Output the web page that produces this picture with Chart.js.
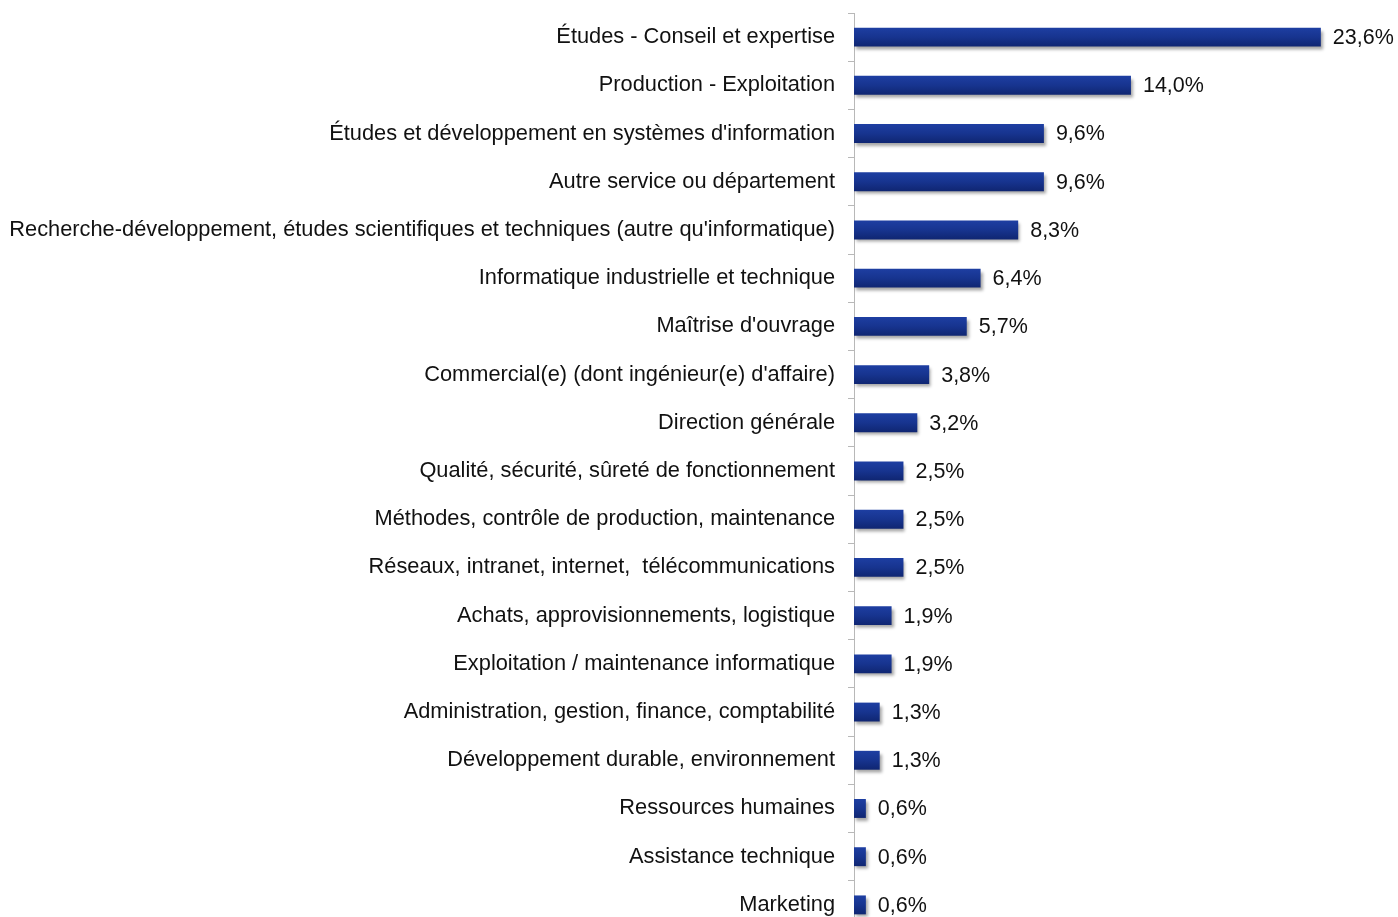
<!DOCTYPE html>
<html>
<head>
<meta charset="utf-8">
<script src="https://cdn.jsdelivr.net/npm/chart.js@4"></script>
<style>
  html, body { margin: 0; padding: 0; background: #fff; overflow: hidden; }
  #wrap { width: 1398px; height: 930px; position: relative; }
</style>
</head>
<body>
<div id="wrap"><canvas id="chart"></canvas></div>
<script>
// Services / départements, ordre du graphique
const categories = [
  "Études - Conseil et expertise",
  "Production - Exploitation",
  "Études et développement en systèmes d'information",
  "Autre service ou département",
  "Recherche-développement, études scientifiques et techniques (autre qu'informatique)",
  "Informatique industrielle et technique",
  "Maîtrise d'ouvrage",
  "Commercial(e) (dont ingénieur(e) d'affaire)",
  "Direction générale",
  "Qualité, sécurité, sûreté de fonctionnement",
  "Méthodes, contrôle de production, maintenance",
  "Réseaux, intranet, internet,  télécommunications",
  "Achats, approvisionnements, logistique",
  "Exploitation / maintenance informatique",
  "Administration, gestion, finance, comptabilité",
  "Développement durable, environnement",
  "Ressources humaines",
  "Assistance technique",
  "Marketing"
];
const values = [23.6, 14.0, 9.6, 9.6, 8.3, 6.4, 5.7, 3.8, 3.2, 2.5, 2.5, 2.5, 1.9, 1.9, 1.3, 1.3, 0.6, 0.6, 0.6];

const FONT = "'Liberation Sans', Arial, sans-serif";
const fmt = v => v.toFixed(1).replace('.', ',') + '%';

// dégradé vertical par barre
function barGradient(c) {
  const chart = c.chart;
  const y = chart.scales.y;
  if (!y || !chart.chartArea || c.dataIndex === undefined) return '#15318f';
  const cy = y.getPixelForValue(c.dataIndex);
  const h = 10;
  const g = chart.ctx.createLinearGradient(0, cy - h, 0, cy + h);
  g.addColorStop(0, '#1e3fa3');
  g.addColorStop(0.5, '#17348f');
  g.addColorStop(1, '#0f2570');
  return g;
}

// ombre portée sous les barres
const shadowPlugin = {
  id: 'barShadow',
  beforeDatasetsDraw(chart) {
    const ctx = chart.ctx;
    ctx.save();
    ctx.shadowColor = 'rgba(0,0,0,0.35)';
    ctx.shadowBlur = 3;
    ctx.shadowOffsetX = 2;
    ctx.shadowOffsetY = 3;
  },
  afterDatasetsDraw(chart) {
    chart.ctx.restore();
  }
};

// étiquettes de valeur en bout de barre
const valueLabels = {
  id: 'valueLabels',
  afterDatasetsDraw(chart) {
    const ctx = chart.ctx;
    const meta = chart.getDatasetMeta(0);
    ctx.save();
    ctx.font = '21.5px ' + FONT;
    ctx.fillStyle = '#111';
    ctx.textBaseline = 'middle';
    meta.data.forEach((bar, i) => {
      ctx.fillText(fmt(values[i]), bar.x + 12, bar.y + 1);
    });
    ctx.restore();
  }
};

new Chart(document.getElementById('chart'), {
  type: 'bar',
  data: {
    labels: categories,
    datasets: [{
      data: values,
      backgroundColor: barGradient,
      borderWidth: 0,
      barPercentage: 0.8,
      categoryPercentage: 0.49
    }]
  },
  options: {
    indexAxis: 'y',
    responsive: true,
    maintainAspectRatio: false,
    animation: false,
    layout: { padding: { top: 13, right: 0, bottom: 1, left: 0 } },
    plugins: { legend: { display: false }, tooltip: { enabled: false } },
    scales: {
      x: {
        display: false,
        min: 0,
        max: 27.5
      },
      y: {
        afterFit(scale) {
          scale.width = 854;
          scale.paddingTop = 0;
          scale.paddingBottom = 0;
        },
        border: { display: true, color: '#b8b8b8', width: 1 },
        grid: { offset: true, drawOnChartArea: false, tickLength: 6, color: '#b8b8b8' },
        ticks: {
          color: '#111',
          padding: 13,
          autoSkip: false,
          font: { family: FONT, size: 21.8 }
        }
      }
    }
  },
  plugins: [shadowPlugin, valueLabels]
});
</script>
</body>
</html>
